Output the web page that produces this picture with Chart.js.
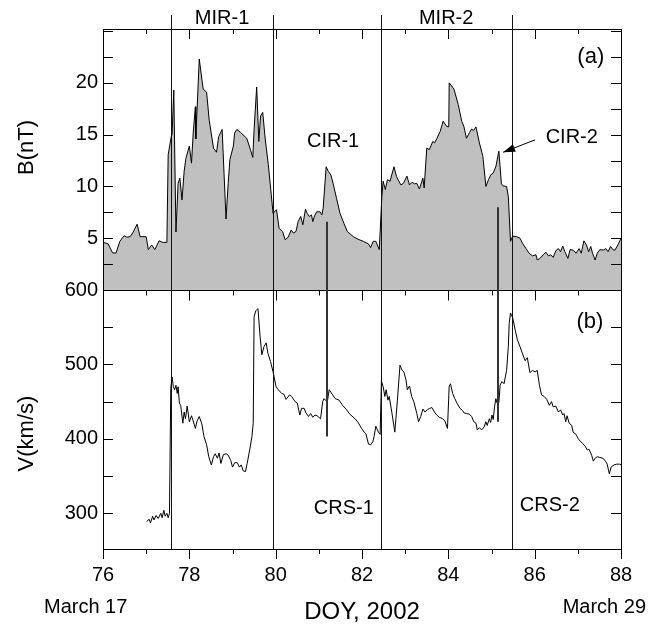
<!DOCTYPE html>
<html>
<head>
<meta charset="utf-8">
<script src="https://cdn.jsdelivr.net/npm/chart.js@4.4.0/dist/chart.umd.min.js"></script>
<style>
  html, body { margin: 0; padding: 0; background: #fff; }
</style>
</head>
<body>
<canvas id="chart" width="652" height="630"></canvas>
<script>
// panel (a): magnetic field B (nT)
const bDoy = [
  76.01, 76.12, 76.22, 76.30, 76.39, 76.49, 76.55, 76.63, 76.70, 76.79,
  76.86, 77.00, 77.05, 77.13, 77.20, 77.30, 77.38, 77.48, 77.51, 77.58,
  77.60, 77.64, 77.69, 77.74, 77.78, 77.83, 77.88, 77.92, 78.00, 78.05,
  78.09, 78.14, 78.15, 78.23, 78.32, 78.40, 78.46, 78.56, 78.63, 78.68,
  78.76, 78.85, 78.90, 78.94, 79.02, 79.05, 79.10, 79.19, 79.33, 79.42,
  79.47, 79.50, 79.56, 79.61, 79.65, 79.70, 79.76, 79.83, 79.94, 80.02,
  80.08, 80.16, 80.22, 80.29, 80.36, 80.41, 80.47, 80.52, 80.58, 80.63,
  80.69, 80.73, 80.78, 80.83, 80.86, 80.90, 80.95, 81.03, 81.07, 81.10,
  81.17, 81.22, 81.28, 81.33, 81.41, 81.49, 81.58, 81.66, 81.80, 81.91,
  82.03, 82.15, 82.20, 82.26, 82.32, 82.40, 82.46, 82.49, 82.54, 82.59,
  82.65, 82.74, 82.80, 82.90, 82.96, 83.04, 83.10, 83.16, 83.22, 83.27,
  83.33, 83.41, 83.44, 83.50, 83.56, 83.64, 83.68, 83.73, 83.81, 83.88,
  83.96, 84.01, 84.02, 84.13, 84.23, 84.31, 84.36, 84.42, 84.49, 84.54,
  84.58, 84.64, 84.72, 84.80, 84.87, 84.93, 84.98, 85.04, 85.10, 85.17,
  85.23, 85.27, 85.35, 85.39, 85.44, 85.49, 85.58, 85.66, 85.72, 85.80,
  85.87, 85.95, 86.03, 86.06, 86.12, 86.20, 86.26, 86.32, 86.37, 86.43,
  86.49, 86.55, 86.60, 86.65, 86.70, 86.77, 86.82, 86.89, 86.96, 87.03,
  87.08, 87.14, 87.20, 87.25, 87.30, 87.34, 87.40, 87.45, 87.51, 87.59,
  87.65, 87.70, 87.76, 87.81, 87.86, 87.94, 88.00
];
const bVal = [
  4.6, 4.45, 3.6, 3.55, 4.7, 5.25, 5.1, 5.15, 5.6, 6.35,
  5.15, 5.15, 3.9, 4.35, 3.9, 4.75, 4.6, 4.6, 13.05, 14.8,
  15.0, 19.3, 5.6, 10.3, 10.8, 8.7, 11.45, 12.7, 13.9, 12.25,
  15.15, 17.7, 14.6, 22.3, 19.4, 19.1, 16.4, 13.7, 13.3, 14.8,
  15.5, 6.85, 10.3, 12.6, 13.9, 15.15, 15.5, 15.2, 14.65, 13.5,
  12.8, 15.5, 19.6, 14.35, 16.8, 17.15, 14.5, 12.1, 7.4, 7.75,
  5.95, 5.65, 4.85, 5.1, 5.8, 5.5, 5.65, 6.6, 7.1, 6.3,
  7.8, 7.4, 7.1, 7.25, 6.6, 7.15, 7.55, 7.55, 7.25, 7.9,
  11.9, 11.45, 11.1, 10.3, 8.85, 7.4, 6.45, 5.65, 5.15, 4.9,
  4.7, 4.45, 4.1, 4.7, 4.7, 3.9, 9.0, 10.5, 9.7, 10.65,
  10.5, 11.9, 10.95, 10.15, 10.3, 11.0, 10.15, 10.4, 10.25, 10.3,
  9.75, 10.8, 9.85, 13.7, 13.55, 14.35, 14.2, 14.6, 15.3, 16.3,
  15.8, 15.75, 20.0, 19.4, 17.9, 16.3, 15.8, 14.65, 15.2, 15.55,
  15.4, 15.75, 14.2, 12.9, 10.0, 10.65, 11.1, 11.3, 11.9, 13.4,
  10.25, 10.05, 10.0, 9.0, 4.7, 5.2, 5.15, 5.0, 4.5, 4.0,
  3.55, 3.3, 3.4, 2.9, 3.05, 3.4, 3.65, 3.3, 3.4, 3.15,
  3.8, 4.0, 3.7, 4.25, 3.7, 3.05, 3.9, 3.85, 3.55, 4.0,
  3.55, 4.75, 4.35, 3.7, 4.2, 3.55, 2.9, 3.55, 3.9, 3.85,
  4.0, 3.7, 4.2, 3.9, 3.85, 4.45, 5.0
];

// panel (b): solar wind speed V (km/s)
const vDoy = [
  77.01, 77.07, 77.10, 77.15, 77.18, 77.23, 77.28, 77.34, 77.37, 77.41,
  77.44, 77.48, 77.51, 77.54, 77.57, 77.60, 77.63, 77.66, 77.69, 77.72,
  77.74, 77.77, 77.80, 77.85, 77.88, 77.91, 77.95, 78.00, 78.05, 78.09,
  78.14, 78.18, 78.23, 78.29, 78.34, 78.40, 78.45, 78.51, 78.56, 78.60,
  78.65, 78.69, 78.73, 78.79, 78.85, 78.90, 78.96, 79.00, 79.05, 79.11,
  79.16, 79.20, 79.25, 79.30, 79.34, 79.41, 79.45, 79.48, 79.50, 79.54,
  79.59, 79.64, 79.68, 79.73, 79.78, 79.82, 79.88, 79.94, 80.01, 80.06,
  80.14, 80.19, 80.24, 80.32, 80.37, 80.45, 80.50, 80.56, 80.60, 80.66,
  80.70, 80.76, 80.81, 80.86, 80.91, 80.96, 81.04, 81.09, 81.12, 81.15,
  81.20, 81.24, 81.32, 81.38, 81.47, 81.55, 81.63, 81.72, 81.84, 81.91,
  81.99, 82.05, 82.09, 82.15, 82.20, 82.25, 82.28, 82.32, 82.38, 82.42,
  82.45, 82.49, 82.53, 82.56, 82.60, 82.63, 82.69, 82.76, 82.82, 82.88,
  82.93, 82.97, 83.02, 83.05, 83.10, 83.15, 83.20, 83.27, 83.31, 83.36,
  83.41, 83.46, 83.51, 83.57, 83.62, 83.68, 83.73, 83.79, 83.87, 83.92,
  83.98, 84.02, 84.05, 84.10, 84.15, 84.20, 84.27, 84.33, 84.36, 84.42,
  84.49, 84.54, 84.59, 84.64, 84.67, 84.72, 84.77, 84.83, 84.87, 84.90,
  84.95, 84.98, 85.01, 85.04, 85.07, 85.10, 85.13, 85.17, 85.20, 85.24,
  85.29, 85.32, 85.35, 85.39, 85.41, 85.44, 85.49, 85.55, 85.60, 85.66,
  85.72, 85.78, 85.83, 85.89, 85.95, 86.01, 86.06, 86.11, 86.16, 86.22,
  86.28, 86.34, 86.39, 86.43, 86.49, 86.55, 86.60, 86.65, 86.68, 86.72,
  86.75, 86.80, 86.86, 86.89, 86.96, 87.01, 87.07, 87.11, 87.17, 87.22,
  87.26, 87.32, 87.36, 87.40, 87.45, 87.51, 87.58, 87.64, 87.68, 87.73,
  87.77, 87.84, 87.90, 87.97, 88.00
];
const vVal = [
  289, 292, 287, 296, 291, 297, 293, 300, 294, 304,
  296, 300, 294, 300, 468, 483, 470, 466, 472, 461,
  470, 448, 445, 421, 436, 427, 444, 423, 431, 424,
  414, 424, 430, 420, 403, 392, 376, 365, 376, 380,
  374, 381, 367, 379, 380, 378, 371, 362, 368, 368,
  362, 365, 357, 356, 367, 389, 403, 421, 564, 572,
  575, 537, 513, 524, 529, 515, 504, 490, 470, 466,
  461, 460, 453, 459, 457, 450, 448, 432, 441, 441,
  435, 430, 434, 429, 432, 431, 427, 450, 454, 452,
  451, 466, 459, 454, 452, 445, 440, 433, 427, 422,
  414, 409, 407, 393, 392, 396, 403, 417, 409, 406,
  478, 470, 457, 466, 452, 457, 436, 409, 452, 499,
  492, 490, 479, 466, 471, 457, 450, 434, 423, 430,
  440, 436, 439, 441, 442, 436, 432, 429, 427, 424,
  414, 471, 474, 461, 454, 448, 441, 438, 435, 434,
  433, 430, 423, 421, 412, 415, 412, 416, 423, 418,
  427, 422, 432, 426, 443, 454, 448, 448, 472, 477,
  474, 483, 492, 524, 555, 569, 563, 546, 533, 524,
  514, 505, 509, 489, 492, 490, 492, 472, 459, 457,
  453, 445, 450, 443, 444, 436, 439, 432, 434, 423,
  431, 421, 418, 409, 406, 400, 396, 394, 390, 385,
  386, 378, 370, 374, 376, 375, 374, 370, 366, 353,
  362, 365, 366, 366, 365
];

// interval boundaries (DOY) and the two marked crossings
const boundaries = [77.575, 79.94, 82.43, 85.47];
const mirLabels = ['MIR-1', 'MIR-2'];
const crsDoy = [81.18, 85.16];
const crsTopB = [6.6, 8.0];
const crsBottomV = [403, 423];

const xLabelTicks = [76, 78, 80, 82, 84, 86, 88];
const bLabelTicks = [5, 10, 15, 20];
const vLabelTicks = [300, 400, 500, 600];

const FONT = 'Liberation Sans, Arial, sans-serif';

const bPoints = bDoy.map((d, i) => ({ x: d, y: bVal[i] }));
const vPoints = vDoy.map((d, i) => ({ x: d, y: vVal[i] }));

function line(ctx, x1, y1, x2, y2) {
  ctx.beginPath();
  ctx.moveTo(x1, y1);
  ctx.lineTo(x2, y2);
  ctx.stroke();
}

const decor = {
  id: 'decor',
  afterDatasetsDraw(chart) {
    const { ctx, chartArea: a, scales: { x, yB, yV } } = chart;
    const mid = Math.round(yB.bottom) + 0.5;
    ctx.save();
    ctx.strokeStyle = '#000';
    ctx.lineWidth = 1;

    // frame and panel divider
    ctx.strokeRect(Math.round(a.left) + 0.5, Math.round(a.top) + 0.5,
      Math.round(a.right - a.left), Math.round(a.bottom - a.top));
    line(ctx, a.left, mid, a.right, mid);

    // x tick marks: top inward, divider downward, bottom outward
    for (let v = 76; v <= 88; v++) {
      const px = Math.round(x.getPixelForValue(v)) + 0.5;
      const len = v % 2 === 0 ? 10 : 5;
      line(ctx, px, a.top, px, a.top + len);
      line(ctx, px, mid, px, mid + len);
      line(ctx, px, a.bottom, px, a.bottom + len);
    }
    // y tick marks, both sides inward
    for (let v = 2.5; v < yB.max; v += 2.5) {
      const py = Math.round(yB.getPixelForValue(v)) + 0.5;
      line(ctx, a.left, py, a.left + 10, py);
      line(ctx, a.right - 10, py, a.right, py);
    }
    for (let v = 300; v < 600; v += 50) {
      const py = Math.round(yV.getPixelForValue(v)) + 0.5;
      line(ctx, a.left, py, a.left + 10, py);
      line(ctx, a.right - 10, py, a.right, py);
    }

    // boundaries of the two intervals
    ctx.strokeStyle = '#111';
    boundaries.forEach(d => {
      const px = Math.round(x.getPixelForValue(d)) + 0.5;
      line(ctx, px, a.top - 14, px, a.bottom);
    });

    // crossing markers
    ctx.strokeStyle = '#333';
    ctx.lineWidth = 2;
    crsDoy.forEach((d, i) => {
      const px = Math.round(x.getPixelForValue(d));
      line(ctx, px, yB.getPixelForValue(crsTopB[i]), px, yV.getPixelForValue(crsBottomV[i]));
    });

    // arrow to CIR-2
    const tipX = x.getPixelForValue(85.27), tipY = yB.getPixelForValue(13.3);
    const tailX = x.getPixelForValue(86.01), tailY = yB.getPixelForValue(14.5);
    ctx.strokeStyle = '#000';
    ctx.lineWidth = 1;
    line(ctx, tailX, tailY, tipX, tipY);
    const ang = Math.atan2(tipY - tailY, tipX - tailX);
    ctx.fillStyle = '#000';
    ctx.beginPath();
    ctx.moveTo(tipX, tipY);
    ctx.lineTo(tipX - 12 * Math.cos(ang) + 4 * Math.sin(ang), tipY - 12 * Math.sin(ang) - 4 * Math.cos(ang));
    ctx.lineTo(tipX - 12 * Math.cos(ang) - 4 * Math.sin(ang), tipY - 12 * Math.sin(ang) + 4 * Math.cos(ang));
    ctx.closePath();
    ctx.fill();

    // labels
    ctx.fillStyle = '#000';
    ctx.textBaseline = 'middle';
    ctx.textAlign = 'center';
    ctx.font = '20px ' + FONT;
    mirLabels.forEach((t, i) => {
      const cx = (x.getPixelForValue(boundaries[i * 2]) + x.getPixelForValue(boundaries[i * 2 + 1])) / 2;
      ctx.fillText(t, cx, a.top - 11);
    });
    ctx.fillText('CIR-1', x.getPixelForValue(81.33), yB.getPixelForValue(14.3));
    ctx.fillText('CIR-2', x.getPixelForValue(86.86), yB.getPixelForValue(14.7));
    ctx.fillText('CRS-1', x.getPixelForValue(81.58), yV.getPixelForValue(306));
    ctx.fillText('CRS-2', x.getPixelForValue(86.35), yV.getPixelForValue(310));
    ctx.font = '22px ' + FONT;
    ctx.fillText('(a)', x.getPixelForValue(87.3), yB.getPixelForValue(22.5));
    ctx.fillText('(b)', x.getPixelForValue(87.28), yV.getPixelForValue(557));

    // axis titles
    ctx.font = '22px ' + FONT;
    ctx.save();
    ctx.translate(27, (yB.top + yB.bottom) / 2 - 12);
    ctx.rotate(-Math.PI / 2);
    ctx.fillText('B(nT)', 0, 0);
    ctx.restore();
    ctx.save();
    ctx.translate(27, (yV.top + yV.bottom) / 2 + 14);
    ctx.rotate(-Math.PI / 2);
    ctx.fillText('V(km/s)', 0, 0);
    ctx.restore();

    ctx.font = '24px ' + FONT;
    ctx.fillText('DOY, 2002', (a.left + a.right) / 2, 612);
    ctx.font = '20px ' + FONT;
    ctx.textAlign = 'left';
    ctx.fillText('March 17', 44, 607);
    ctx.textAlign = 'right';
    ctx.fillText('March 29', 646, 607);
    ctx.restore();
  }
};

new Chart(document.getElementById('chart'), {
  type: 'line',
  data: {
    datasets: [
      {
        data: vPoints,
        yAxisID: 'yV',
        borderColor: '#000',
        borderWidth: 1,
        fill: false,
        pointRadius: 0,
        tension: 0
      },
      {
        data: bPoints,
        yAxisID: 'yB',
        borderColor: '#000',
        borderWidth: 1,
        backgroundColor: '#c0c0c0',
        fill: 'origin',
        pointRadius: 0,
        tension: 0
      }
    ]
  },
  options: {
    responsive: false,
    animation: false,
    devicePixelRatio: 1,
    layout: { padding: { top: 29, right: 31, left: 0, bottom: 0 } },
    plugins: { legend: { display: false }, tooltip: { enabled: false } },
    scales: {
      x: {
        type: 'linear',
        min: 76,
        max: 88,
        grid: { display: false, drawTicks: false },
        border: { display: false },
        ticks: { color: '#000', font: { family: FONT, size: 20 }, padding: 14 },
        afterBuildTicks: s => { s.ticks = xLabelTicks.map(v => ({ value: v })); },
        afterFit: s => { s.height = 81; }
      },
      yV: {
        type: 'linear',
        position: 'left',
        stack: 'panels',
        stackWeight: 259,
        min: 252,
        max: 600,
        grid: { display: false, drawTicks: false },
        border: { display: false },
        ticks: { color: '#000', font: { family: FONT, size: 20 }, padding: 5 },
        afterBuildTicks: s => { s.ticks = vLabelTicks.map(v => ({ value: v })); },
        afterFit: s => { s.width = 103; }
      },
      yB: {
        type: 'linear',
        position: 'left',
        stack: 'panels',
        stackWeight: 261,
        min: 0,
        max: 25.2,
        grid: { display: false, drawTicks: false },
        border: { display: false },
        ticks: { color: '#000', font: { family: FONT, size: 20 }, padding: 5 },
        afterBuildTicks: s => { s.ticks = bLabelTicks.map(v => ({ value: v })); },
        afterFit: s => { s.width = 103; }
      }
    }
  },
  plugins: [decor]
});
</script>
</body>
</html>
